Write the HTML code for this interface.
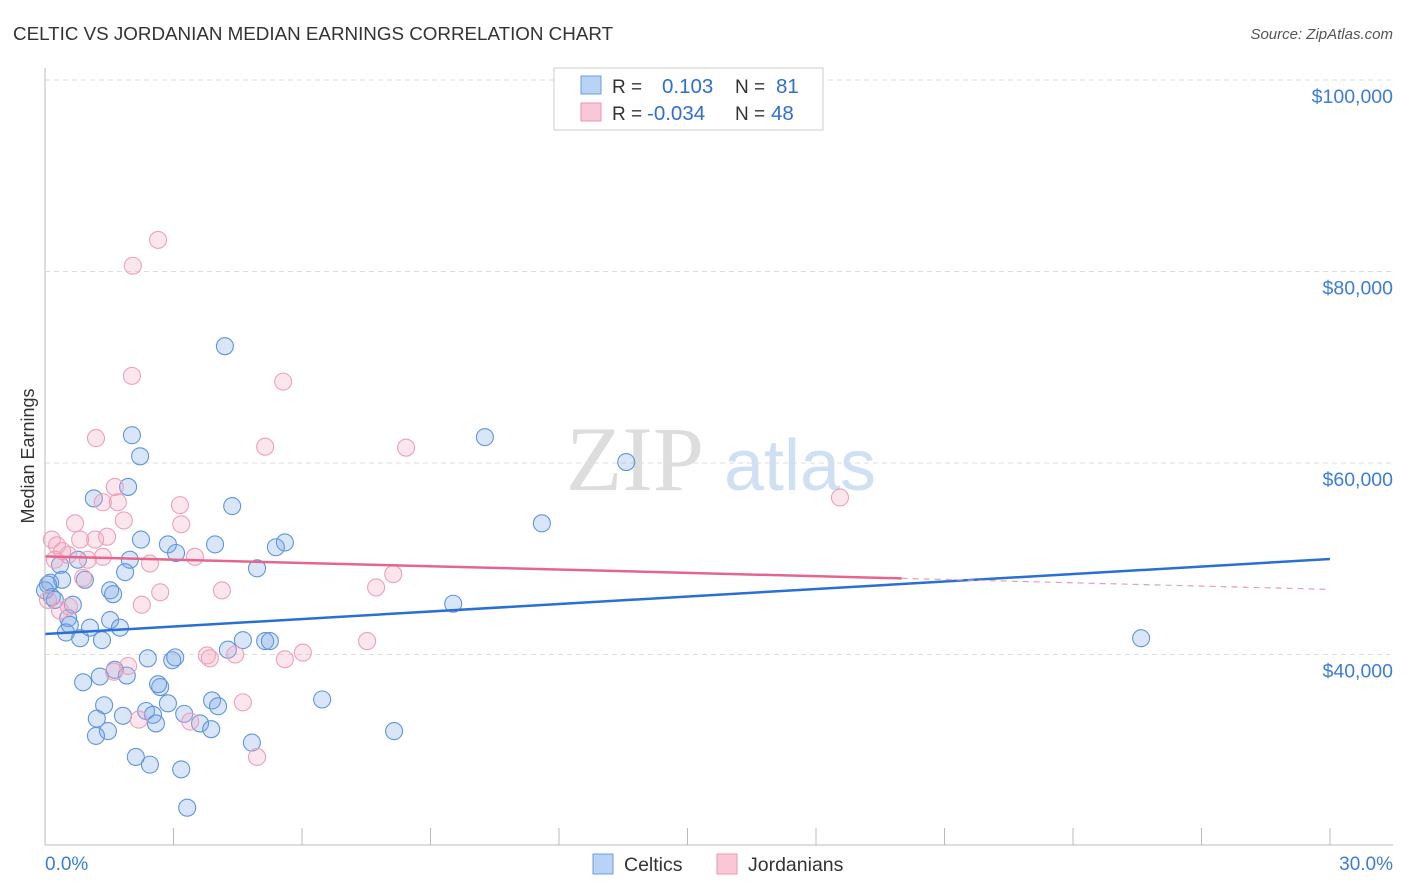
<!DOCTYPE html>
<html><head><meta charset="utf-8"><style>
body{margin:0;background:#fff;font-family:"Liberation Sans",sans-serif;}
svg{display:block}
</style></head><body>
<svg id="chart" width="1406" height="892">
<text x="13" y="40" font-size="18.8" fill="#333">CELTIC VS JORDANIAN MEDIAN EARNINGS CORRELATION CHART</text>
<text x="1393" y="39" font-size="15" fill="#555" font-style="italic" text-anchor="end">Source: ZipAtlas.com</text>
<text x="635" y="490" font-size="92" fill="#ddd" font-family="Liberation Serif,serif" text-anchor="middle">ZIP</text>
<text x="800" y="490" font-size="72" fill="#cfe0f5" text-anchor="middle">atlas</text>
<text transform="translate(34,456) rotate(-90)" font-size="18" fill="#333" text-anchor="middle">Median Earnings</text>
<g id="grid"></g><g id="ticks"></g><g id="pts"></g><g id="lines"></g>
<line x1="45" y1="68" x2="45" y2="845" stroke="#bbb"/>
<line x1="45" y1="845" x2="1393" y2="845" stroke="#bbb"/>
<text x="45" y="870" font-size="19" fill="#3b7dd8">0.0%</text>
<text x="1393" y="870" font-size="19" fill="#3b7dd8" text-anchor="end">30.0%</text>
<g>
<rect x="554" y="68" width="269" height="62" fill="#fff" stroke="#ccc"/>
<rect x="581" y="76" width="20" height="18" fill="#b9d3f5" stroke="#6a9be0"/>
<rect x="581" y="103" width="20" height="18" fill="#f9c7d5" stroke="#ec97b0"/>
<text x="612" y="93" font-size="19" fill="#333">R = <tspan fill="#2f6fd0" x="662" font-size="20.5">0.103</tspan><tspan x="735" fill="#333">N = </tspan><tspan fill="#2f6fd0" x="776" font-size="20.5">81</tspan></text>
<text x="612" y="120" font-size="19" fill="#333">R = <tspan fill="#2f6fd0" x="647" font-size="20.5">-0.034</tspan><tspan x="735" fill="#333">N = </tspan><tspan fill="#2f6fd0" x="771" font-size="20.5">48</tspan></text>
</g>
<g>
<rect x="593" y="854" width="20" height="20" fill="#b9d3f5" stroke="#6a9be0"/>
<text x="624" y="871" font-size="19.5" fill="#333">Celtics</text>
<rect x="717" y="854" width="20" height="20" fill="#f9c7d5" stroke="#ec97b0"/>
<text x="748" y="871" font-size="19.5" fill="#333">Jordanians</text>
</g>
</svg>
<script>
const yTicks=[100000,80000,60000,40000];
const yTickLabels=["$100,000","$80,000","$60,000","$40,000"];
const xTicks=[0,3,6,9,12,15,18,21,24,27,30];
const celticX=[4.20,2.03,2.22,1.94,1.14,4.37,10.27,13.57,11.60,2.24,2.87,3.06,3.97,5.60,5.39,1.98,0.77,1.87,0.35,4.95,0.12,0.40,0.93,0.16,0.65,0.54,1.52,1.59,9.53,0.58,1.05,1.52,1.75,1.33,0.82,0.49,4.62,5.14,5.25,4.27,2.40,2.97,3.04,1.63,1.91,1.28,0.89,2.69,2.64,3.90,4.04,1.38,2.87,6.47,1.82,1.21,2.36,2.52,2.59,3.25,3.62,3.88,1.47,1.19,8.15,4.83,2.12,2.45,3.18,3.32,25.59,0,0.07,0.23];
const celticY=[72.2,62.9,60.7,57.5,56.3,55.5,62.7,60.1,53.7,52.0,51.5,50.6,51.5,51.7,51.2,49.9,49.9,48.6,49.35,49.0,47.5,47.8,47.8,46.0,45.2,43.8,46.7,46.3,45.3,43.1,42.8,43.6,42.8,41.5,41.7,42.3,41.5,41.4,41.4,40.5,39.6,39.4,39.7,38.4,37.8,37.7,37.1,36.6,36.9,35.2,34.6,34.7,34.9,35.3,33.6,33.3,34.1,33.7,32.8,33.8,32.8,32.2,32.0,31.5,32.0,30.8,29.3,28.5,28.0,24.0,41.7,46.7,47.3,45.7];
const jordX=[2.64,2.05,2.03,5.56,1.19,5.14,8.43,18.56,1.63,1.35,1.70,3.15,1.84,3.18,0.70,1.17,1.45,0.82,0.16,0.28,0.54,0.40,1.35,1.00,2.45,3.50,0.89,2.69,4.13,2.26,8.13,7.73,0.56,0.07,7.52,3.78,3.85,4.44,5.60,6.02,1.94,1.61,4.62,3.39,2.19,4.95,0.23,0.35];
const jordY=[83.3,80.6,69.1,68.5,62.6,61.7,61.6,56.4,57.5,55.9,55.9,55.6,54.0,53.6,53.7,52.0,52.3,52.0,52.0,51.4,50.4,50.8,50.2,49.9,49.5,50.2,48.0,46.5,46.7,45.2,48.4,47.0,45.0,45.7,41.4,39.9,39.6,40.0,39.5,40.2,38.8,38.2,35.0,33.0,33.2,29.3,49.9,44.6];
const celticTrend=[42.14,49.97];
const jordTrend=[50.25,47.95,46.8];
const NS="http://www.w3.org/2000/svg";
function xs(p){return 45+p*(1285/30);}
function ys(v){return 80+(100000-v)/20000*191.5;}
function el(t,a,parent){const e=document.createElementNS(NS,t);for(const k in a)e.setAttribute(k,a[k]);document.getElementById(parent).appendChild(e);return e;}
yTicks.forEach((v,i)=>{
 const g=el('line',{x1:45,x2:1393,y1:ys(v),y2:ys(v),stroke:'#ddd','stroke-dasharray':'5,4'},'grid');
 
 
 const t=el('text',{x:1393,y:ys(v)+23,'font-size':19.5,fill:'#3b7dd8','text-anchor':'end'},'grid');
 t.textContent=yTickLabels[i];
 
 
});
xTicks.forEach(p=>{
 const t=el('line',{x1:xs(p),x2:xs(p),y1:828,y2:845,stroke:'#bbb'},'ticks');
 
 
});
celticX.forEach((x,i)=>{
 const c=el('circle',{cx:xs(x),cy:ys(celticY[i]*1000),r:8.5,fill:'rgba(120,165,230,0.28)',stroke:'#5f95de','stroke-width':1.1},'pts');
 
 
});
jordX.forEach((x,i)=>{
 const c=el('circle',{cx:xs(x),cy:ys(jordY[i]*1000),r:8.5,fill:'rgba(245,165,190,0.28)',stroke:'#eea0b7','stroke-width':1.1},'pts');
 
 
});
const bl=el('line',{x1:xs(0),y1:ys(celticTrend[0]*1000),x2:xs(30),y2:ys(celticTrend[1]*1000),stroke:'#2a6fd4','stroke-width':2.5},'lines');


const pl=el('line',{x1:xs(0),y1:ys(jordTrend[0]*1000),x2:xs(20),y2:ys(jordTrend[1]*1000),stroke:'#e4668e','stroke-width':2.5},'lines');


const pd=el('line',{x1:xs(20),y1:ys(jordTrend[1]*1000),x2:xs(30),y2:ys(jordTrend[2]*1000),stroke:'#e4a0b5','stroke-width':1.2,'stroke-dasharray':'6,5'},'lines');


</script>
</body></html>
